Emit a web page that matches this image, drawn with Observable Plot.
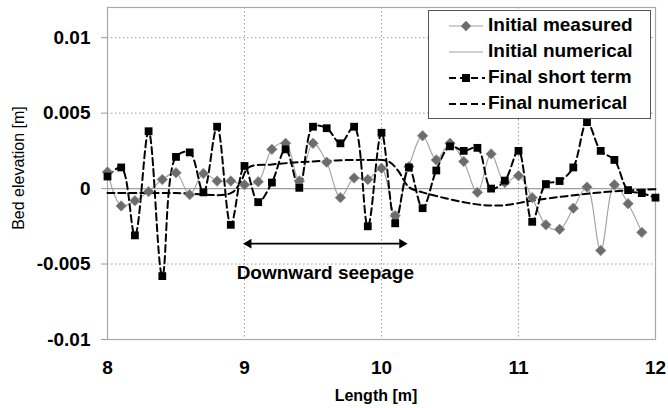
<!DOCTYPE html>
<html><head><meta charset="utf-8">
<script src="https://cdn.jsdelivr.net/npm/d3@7"></script>
<script src="https://cdn.jsdelivr.net/npm/@observablehq/plot@0.6"></script>
<style>
body{margin:0;background:#fff;font-family:"Liberation Sans",Arial,sans-serif;}
#wrap{position:relative;width:668px;height:408px;overflow:hidden;}
#legend{position:absolute;left:428px;top:10px;width:221px;height:107px;border:1px solid #555;background:#fff;}
.row{position:absolute;left:0;width:221px;height:26px;}
.row svg{position:absolute;left:18px;top:3px;}
.row span{position:absolute;left:59px;top:1px;font-weight:bold;font-size:19px;color:#000;white-space:nowrap;}
</style></head>
<body><div id="wrap"></div>
<script>
// Data
const measX = [8.0,8.1,8.2,8.3,8.4,8.5,8.6,8.7,8.8,8.9,9.0,9.1,9.2,9.3,9.4,9.5,9.6,9.7,9.8,9.9,10.0,10.1,10.2,10.3,10.4,10.5,10.6,10.7,10.8,10.9,11.0,11.1,11.2,11.3,11.4,11.5,11.6,11.7,11.8,11.9];
const measY = [0.0011,-0.00115,-0.0008,-0.0002,0.0006,0.00105,-0.0004,0.001,0.0005,0.0005,0.00025,0.00045,0.0026,0.003,0.0005,0.003,0.00175,-0.0006,0.0007,0.0006,0.00135,-0.0018,0.00145,0.0035,0.0019,0.003,0.0018,-0.00025,0.0023,0.0004,0.00085,-0.0006,-0.0024,-0.0027,-0.0013,0.0001,-0.0041,0.00025,-0.001,-0.0029];
const shortX = [8.0,8.1,8.2,8.3,8.4,8.5,8.6,8.7,8.8,8.9,9.0,9.1,9.2,9.3,9.4,9.5,9.6,9.7,9.8,9.9,10.0,10.1,10.2,10.3,10.4,10.5,10.6,10.7,10.8,10.9,11.0,11.1,11.2,11.3,11.4,11.5,11.6,11.7,11.8,11.9,12.0];
const shortY = [0.0008,0.0014,-0.0031,0.0038,-0.0058,0.0021,0.0024,-0.00025,0.0041,-0.0024,0.0015,-0.0009,0.0004,0.0026,0.00005,0.0041,0.004,0.003,0.0041,-0.0025,0.0037,-0.0023,0.0014,-0.0013,0.0012,0.0028,0.0025,0.0027,0.0,0.00053,0.0025,-0.0022,0.0003,0.0005,0.0014,0.0044,0.0025,0.0019,-0.0001,-0.0003,-0.0006];
const finNumX = [8.0,8.5,8.9,8.97,9.03,9.2,9.5,9.9,10.05,10.12,10.2,10.3,10.45,10.6,10.75,10.9,11.1,11.35,11.6,11.85,12.0];
const finNumY = [-0.0003,-0.0003,-0.0003,0.0004,0.0014,0.0016,0.0018,0.0019,0.0018,0.0012,0.0001,-0.00025,-0.0006,-0.0009,-0.0011,-0.0011,-0.0008,-0.0005,-0.00025,-0.0001,-0.00005];
const initNumX = [8, 12];
const initNumY = [0, 0];
const xTicks = [8, 9, 10, 11, 12];
const yTicks = [-0.01, -0.005, 0, 0.005, 0.01];
const xGrid = [9, 10, 11];
const yGrid = [-0.005, 0.005, 0.01];
const seepX = [9.03, 10.15];
const seepY = -0.00365;
const seepLabel = {x: 9.59, y: -0.0056, text: "Downward seepage"};
const seriesNames = ["Initial measured", "Initial numerical", "Final short term", "Final numerical"];
const xTitle = "Length [m]";
const yTitle = "Bed elevation [m]";

const meas = measX.map((x, i) => ({x, y: measY[i]}));
const short = shortX.map((x, i) => ({x, y: shortY[i]}));
const finNum = finNumX.map((x, i) => ({x, y: finNumY[i]}));
const initNum = initNumX.map((x, i) => ({x, y: initNumY[i]}));

const FONT = '"Liberation Sans", Arial, sans-serif';

const chart = Plot.plot({
  width: 668, height: 408,
  marginLeft: 107, marginRight: 13, marginTop: 7, marginBottom: 69,
  style: {fontFamily: FONT, background: "#fff", overflow: "visible"},
  x: {domain: [8, 12]},
  y: {domain: [-0.01, 0.012]},
  marks: [
    Plot.ruleX(xGrid, {stroke: "#9a9a9a", strokeDasharray: "1.5,2.5", strokeWidth: 1}),
    Plot.ruleY(yGrid, {stroke: "#9a9a9a", strokeDasharray: "1.5,2.5", strokeWidth: 1}),
    Plot.frame({stroke: "#a8a8a8", strokeWidth: 1.2}),
    Plot.axisY({ticks: yTicks, tickFormat: d => d === 0 ? "0" : String(d), tickSize: 6, tickPadding: 11, stroke: "#999", fontSize: 19, fontWeight: "bold", label: null, color: "#000"}),
    Plot.axisX({ticks: xTicks, tickFormat: d => String(d), tickSize: 0, tickPadding: 21, fontSize: 19, fontWeight: "bold", label: null}),
    Plot.line(initNum, {x: "x", y: "y", stroke: "#a0a0a0", strokeWidth: 1.3}),
    Plot.line(meas, {x: "x", y: "y", stroke: "#a0a0a0", strokeWidth: 1.1, curve: "catmull-rom"}),
    Plot.line(finNum, {x: "x", y: "y", stroke: "#000", strokeWidth: 2, strokeDasharray: "7,4", curve: "catmull-rom"}),
    Plot.line(short, {x: "x", y: "y", stroke: "#000", strokeWidth: 2, strokeDasharray: "7,4", curve: "catmull-rom"}),
    Plot.dot(meas, {x: "x", y: "y", symbol: "diamond2", r: 4.7, fill: "#6c6c6c", stroke: "#8c8c8c", strokeWidth: 0.8}),
    Plot.dot(short, {x: "x", y: "y", symbol: "square", r: 4.4, fill: "#000", stroke: "none"}),
    Plot.link([0], {x1: () => seepX[0], x2: () => seepX[1], y1: () => seepY, y2: () => seepY, stroke: "#000", strokeWidth: 1.6}),
    Plot.dot(seepX, {x: d => d, y: () => seepY, symbol: "triangle", r: 3.6, fill: "#000", rotate: (d, i) => i === 0 ? -90 : 90}),
    Plot.text([seepLabel], {x: "x", y: "y", text: "text", fontSize: 19, fontWeight: "bold", fill: "#000"})
  ]
});
const wrap = document.getElementById("wrap");
wrap.appendChild(chart);

// axis titles
const svg = d3.select(chart.tagName.toLowerCase() === "svg" ? chart : chart.querySelector("svg"));
svg.append("text").attr("transform", "translate(18,168) rotate(-90)")
  .attr("text-anchor", "middle").attr("dominant-baseline", "central")
  .attr("font-family", FONT).attr("font-size", 16).attr("fill", "#000").text(yTitle);
svg.append("text").attr("transform", "translate(376,395)")
  .attr("text-anchor", "middle").attr("dominant-baseline", "central")
  .attr("font-family", FONT).attr("font-size", 16).attr("font-weight", "bold").attr("fill", "#000").text(xTitle);

// legend
const leg = document.createElement("div");
leg.id = "legend";
const rowTops = [2, 28, 54, 80];
seriesNames.forEach((name, i) => {
  const row = document.createElement("div");
  row.className = "row";
  row.style.top = rowTops[i] + "px";
  let sym = "";
  if (i === 0) sym = '<line x1="2" y1="10" x2="36" y2="10" stroke="#a0a0a0" stroke-width="1.2"/><path d="M19,5 L24,10 L19,15 L14,10 Z" fill="#6c6c6c" stroke="#8c8c8c" stroke-width="0.8"/>';
  if (i === 1) sym = '<line x1="2" y1="10" x2="36" y2="10" stroke="#a0a0a0" stroke-width="1.2"/>';
  if (i === 2) sym = '<line x1="2" y1="10" x2="38" y2="10" stroke="#000" stroke-width="2" stroke-dasharray="7,4"/><rect x="15" y="6" width="8" height="8" fill="#000"/>';
  if (i === 3) sym = '<line x1="2" y1="10" x2="38" y2="10" stroke="#000" stroke-width="2" stroke-dasharray="7,4"/>';
  row.innerHTML = '<svg width="40" height="20">' + sym + '</svg><span>' + name + '</span>';
  leg.appendChild(row);
});
wrap.appendChild(leg);
</script>
</body></html>
